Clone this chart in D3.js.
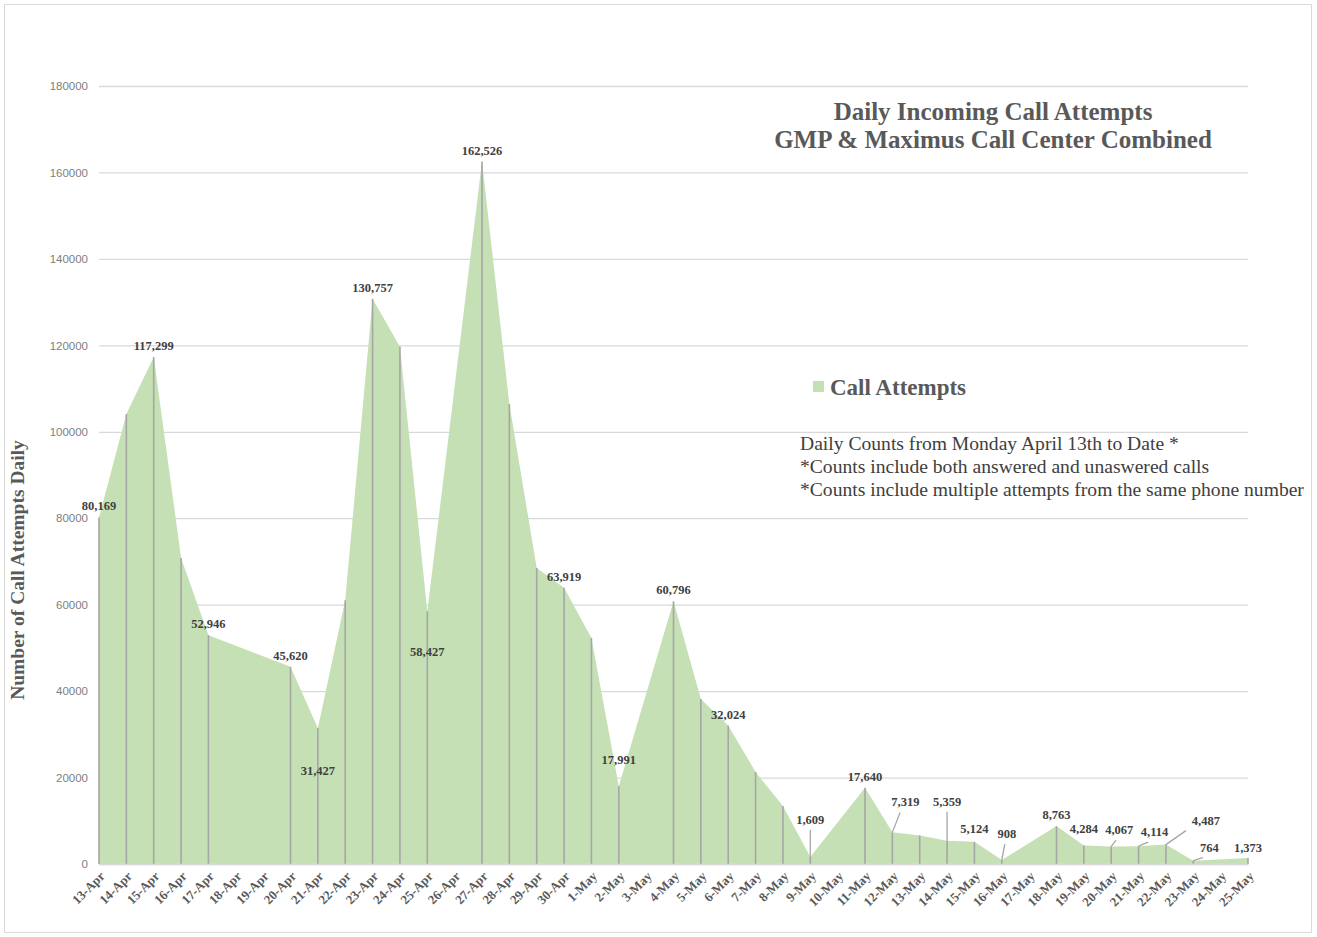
<!DOCTYPE html>
<html>
<head>
  <meta charset="utf-8">
  <title>Daily Incoming Call Attempts</title>
  <style>
    body { margin: 0; background: #fff; }
    svg text { font-family: "Liberation Serif", "Times New Roman", serif; }
  </style>
</head>
<body>
<script src="https://cdn.jsdelivr.net/npm/d3@7/dist/d3.min.js"></script>
<script>

// every day on the axis; null = no data that day (line runs straight across)
var days = ['13-Apr','14-Apr','15-Apr','16-Apr','17-Apr','18-Apr','19-Apr','20-Apr','21-Apr','22-Apr',
            '23-Apr','24-Apr','25-Apr','26-Apr','27-Apr','28-Apr','29-Apr','30-Apr','1-May','2-May',
            '3-May','4-May','5-May','6-May','7-May','8-May','9-May','10-May','11-May','12-May',
            '13-May','14-May','15-May','16-May','17-May','18-May','19-May','20-May','21-May','22-May',
            '23-May','24-May','25-May'];

var calls = [80169, 104100, 117299, 70800, 52946, null, null, 45620, 31427, 61000,
             130757, 119700, 58427, null, 162526, 106400, 68500, 63919, 52300, 17991,
             null, 60796, 38200, 32024, 21300, 13400, 1609, null, 17640, 7319,
             6600, 5359, 5124, 908, null, 8763, 4284, 4067, 4114, 4487,
             764, null, 1373];

// which points carry a value label
var labelled = [1,0,1,0,1,0,0,1,1,0, 1,0,1,0,1,0,0,1,0,1, 0,1,0,1,0,0,1,0,1,1,
                0,1,1,1,0,1,1,1,1,1, 1,0,1];

var yTicks = [0, 20000, 40000, 60000, 80000, 100000, 120000, 140000, 160000, 180000];

var titleLines = ['Daily Incoming Call Attempts', 'GMP & Maximus Call Center Combined'];
var notes = ['Daily Counts from Monday April 13th to Date *',
             '*Counts include both answered and unaswered calls',
             '*Counts include multiple attempts from the same phone number'];

// label nudges (dx, dy from the point), the rest sit just above their point
var nudge = {
  '21-Apr': [0, 47], '25-Apr': [0, 45], '2-May': [0, -22], '9-May': [0, -33],
  '12-May': [13, -26], '14-May': [0, -35], '15-May': [0, -9], '16-May': [5, -22],
  '19-May': [0, -12], '20-May': [8, -12], '21-May': [16, -10], '22-May': [40, -20],
  '23-May': [16, -9], '25-May': [0, -6]
};
var leader = ['9-May','12-May','14-May','16-May','20-May','21-May','22-May','23-May'];

var W = 1317, H = 937,
    x0 = 99, x1 = 1248, yTop = 86, yBot = 864;

var svg = d3.select('body').append('svg')
    .attr('width', W).attr('height', H);

svg.append('rect')
   .attr('x', 4.5).attr('y', 4.5).attr('width', 1307).attr('height', 928)
   .attr('fill', '#fff').attr('stroke', '#d9d9d9');

var x = d3.scalePoint().domain(days).range([x0, x1]);
var y = d3.scaleLinear().domain([0, 180000]).range([yBot, yTop]);

var pts = days.map(function(d, i){ return {day: d, v: calls[i], lab: labelled[i]}; })
              .filter(function(p){ return p.v !== null; });

// grid + y labels
var yAxis = svg.append('g')
   .attr('transform', 'translate(' + x0 + ',0)')
   .call(d3.axisLeft(y).tickValues(yTicks).tickSize(-(x1 - x0)).tickPadding(11)
           .tickFormat(d3.format('d')));
yAxis.select('.domain').remove();
yAxis.selectAll('line').attr('stroke', '#d9d9d9').attr('stroke-width', 1.3);
yAxis.selectAll('text')
     .style('font-family', '"Liberation Sans", Arial, sans-serif')
     .attr('font-size', 11.5).attr('fill', '#808080');

// area
var area = d3.area()
    .x(function(p){ return x(p.day); })
    .y0(y(0))
    .y1(function(p){ return y(p.v); });

svg.append('path').datum(pts)
   .attr('d', area)
   .attr('fill', '#c5e0b4');

// drop lines
svg.selectAll('line.drop').data(pts).enter()
   .append('line').attr('class', 'drop')
   .attr('x1', function(p){ return x(p.day); })
   .attr('x2', function(p){ return x(p.day); })
   .attr('y1', function(p){ return y(p.v); })
   .attr('y2', y(0))
   .attr('stroke', '#a6a6a6').attr('stroke-width', 1.6);

// x axis
var xAxis = svg.append('g')
   .attr('transform', 'translate(0,' + yBot + ')')
   .call(d3.axisBottom(x).tickSize(0).tickPadding(0));
xAxis.select('.domain').attr('stroke', '#d9d9d9').attr('stroke-width', 1.3);
xAxis.selectAll('text')
     .attr('font-size', 13).attr('font-weight', 'bold').attr('fill', '#595959')
     .style('font-family', '"Liberation Serif", serif')
     .attr('text-anchor', 'end')
     .attr('dy', 0)
     .attr('transform', 'translate(6,13) rotate(-45)');

// value labels
var fmt = d3.format(',');
var labs = pts.filter(function(p){ return p.lab; });

svg.selectAll('line.leader').data(labs.filter(function(p){ return leader.indexOf(p.day) >= 0; }))
   .enter().append('line').attr('class', 'leader')
   .attr('x1', function(p){ return x(p.day); })
   .attr('y1', function(p){ return y(p.v); })
   .attr('x2', function(p){ var n = nudge[p.day]; return x(p.day) + n[0] * (p.day === '22-May' ? 0.5 : 0.6); })
   .attr('y2', function(p){ var n = nudge[p.day]; return y(p.v) + n[1] + 6; })
   .attr('stroke', '#a6a6a6').attr('stroke-width', 1.3);

svg.selectAll('text.val').data(labs).enter()
   .append('text').attr('class', 'val')
   .attr('x', function(p){ var n = nudge[p.day] || [0, 0]; return x(p.day) + n[0]; })
   .attr('y', function(p){ var n = nudge[p.day] || [0, -7]; return y(p.v) + n[1]; })
   .attr('text-anchor', 'middle')
   .attr('font-size', 12.5).attr('font-weight', 'bold').attr('fill', '#404040')
   .text(function(p){ return fmt(p.v); });

// title
svg.append('text')
   .attr('x', 993).attr('y', 120)
   .attr('text-anchor', 'middle')
   .attr('font-size', 25).attr('font-weight', 'bold').attr('fill', '#595959')
   .selectAll('tspan').data(titleLines).enter()
   .append('tspan').attr('x', 993).attr('dy', function(d, i){ return i ? 28 : 0; })
   .text(function(d){ return d; });

// legend
svg.append('rect').attr('x', 813).attr('y', 381).attr('width', 11).attr('height', 11)
   .attr('fill', '#c5e0b4');
svg.append('text').attr('x', 830).attr('y', 395)
   .attr('font-size', 23).attr('font-weight', 'bold').attr('fill', '#595959')
   .text('Call Attempts');

// notes
svg.append('g').selectAll('text').data(notes).enter()
   .append('text')
   .attr('x', 800).attr('y', function(d, i){ return 450 + i * 23; })
   .attr('font-size', 19.6).attr('fill', '#404040')
   .text(function(d){ return d; });

// y title
svg.append('text')
   .attr('transform', 'translate(24,570) rotate(-90)')
   .attr('text-anchor', 'middle')
   .attr('font-size', 19.5).attr('font-weight', 'bold').attr('fill', '#595959')
   .text('Number of Call Attempts Daily');

</script>
</body>
</html>
